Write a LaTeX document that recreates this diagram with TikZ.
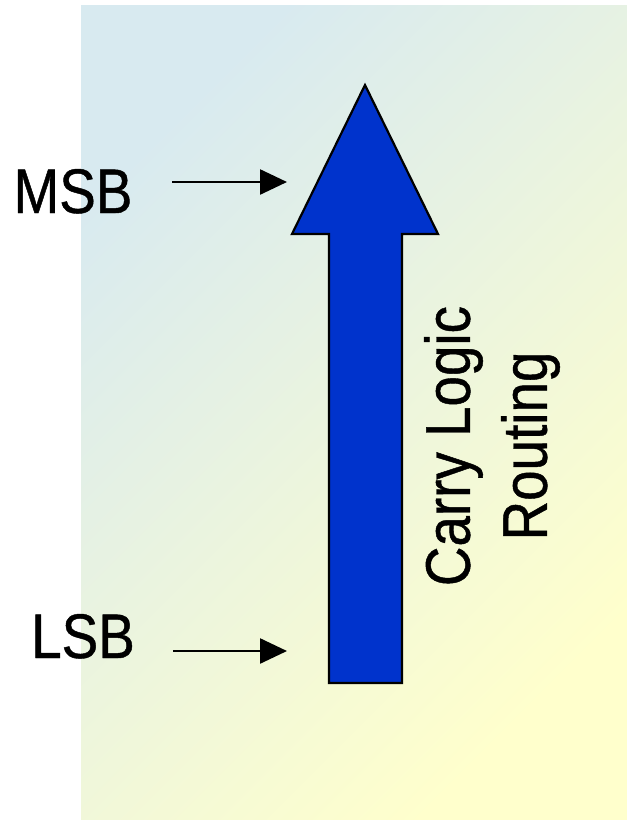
\documentclass[tikz,border=0pt]{standalone}
\usepackage{fontspec}
\setmainfont{Liberation Sans}[FakeStretch=0.87, FakeBold=0.7]
\usetikzlibrary{arrows.meta}
\definecolor{bgblue}{HTML}{D8EAF0}
\definecolor{bgyellow}{HTML}{FFFFCC}
\definecolor{arrowblue}{HTML}{0033CC}
\tikzset{
  bigtext/.style={font=\fontsize{63}{77}\selectfont, inner sep=0pt},
  pointer/.style={line width=2.5pt, -{Triangle[length=27pt,width=25pt]}},
  carry/.style={fill=arrowblue, draw=black, line width=2.2pt, line join=miter}
}
\begin{document}
\begin{tikzpicture}[x=1pt,y=-1pt]
\useasboundingbox (0,0) rectangle (627,820);
\shade[shading=axis, top color=bgblue, bottom color=bgyellow, shading angle=45] (81,5) rectangle (627,820);
% big carry arrow
\draw[carry] (329,683) -- (329,234) -- (292,234) -- (365,85) -- (438,234) -- (402,234) -- (402,683) -- cycle;
\coordinate (msbtip) at (287,182);
\coordinate (lsbtip) at (287,651);
\node[bigtext, anchor=base] (msb) at (73,213) {MSB};
\node[bigtext, anchor=base] (lsb) at (83,658) {LSB};
\coordinate (msbstart) at (172,182);
\coordinate (lsbstart) at (173,651);
\draw[pointer] (msbstart) -- (msbtip);
\draw[pointer] (lsbstart) -- (lsbtip);
\node[bigtext, rotate=90, align=center] (label) at (492,446) {Carry Logic\\Routing};
\end{tikzpicture}
\end{document}
